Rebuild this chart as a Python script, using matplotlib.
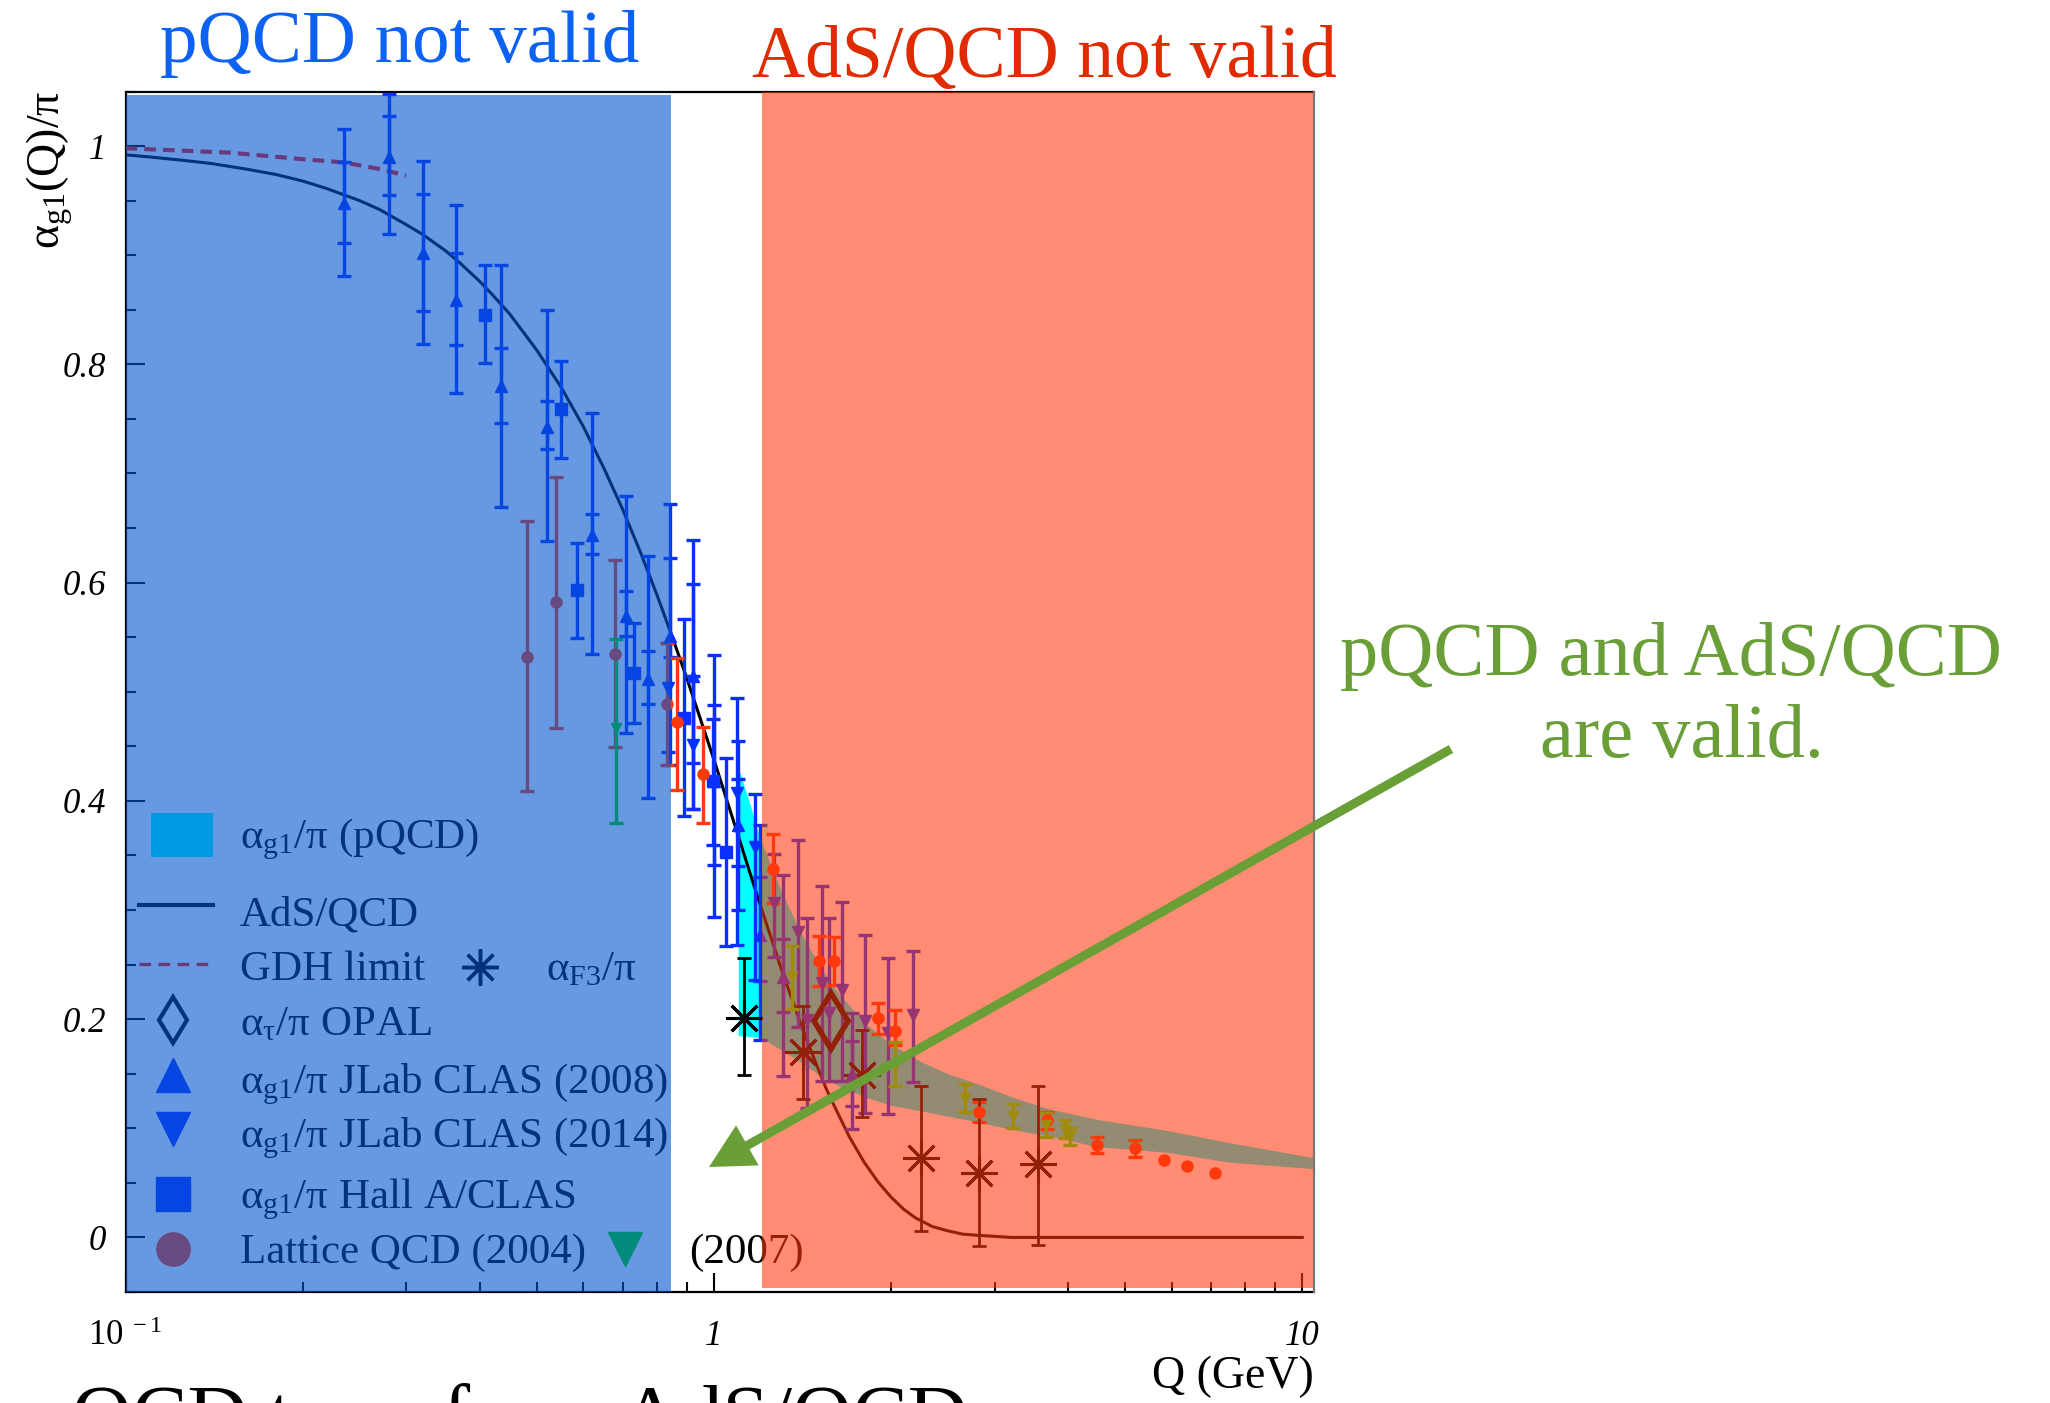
import numpy as np
import matplotlib
matplotlib.use("Agg")
import matplotlib.pyplot as plt
from matplotlib.patches import FancyArrow, Rectangle
from matplotlib.ticker import FixedLocator, NullFormatter

plt.rcParams['font.family'] = ['Liberation Serif', 'DejaVu Serif']
plt.rcParams['mathtext.fontset'] = 'custom'
plt.rcParams['mathtext.rm'] = 'Liberation Serif'
plt.rcParams['mathtext.it'] = 'Liberation Serif:italic'
plt.rcParams['mathtext.bf'] = 'Liberation Serif:bold'

# ---------------- data ----------------
# AdS/QCD prediction
ads_q = [0.1, 0.11, 0.125, 0.14, 0.16, 0.18, 0.2, 0.22, 0.25, 0.27, 0.3, 0.32, 0.35, 0.37,
         0.4, 0.42, 0.45, 0.5, 0.55, 0.6, 0.65, 0.7, 0.75, 0.8, 0.85, 0.9, 0.95, 1.0, 1.05,
         1.1, 1.15, 1.2, 1.25, 1.3, 1.35, 1.4, 1.45, 1.5, 1.55, 1.6, 1.7, 1.8, 1.9, 2.0,
         2.1, 2.2, 2.35, 2.5, 2.65, 2.8, 3.0, 3.2, 4.0, 6.0, 10.0]
ads_a = [0.992, 0.990, 0.987, 0.984, 0.979, 0.974, 0.968, 0.961, 0.950, 0.942, 0.928,
         0.919, 0.904, 0.893, 0.876, 0.864, 0.846, 0.813, 0.779, 0.743, 0.705, 0.667,
         0.628, 0.589, 0.550, 0.512, 0.474, 0.438, 0.402, 0.368, 0.335, 0.304, 0.275,
         0.247, 0.222, 0.198, 0.176, 0.156, 0.137, 0.121, 0.092, 0.069, 0.051, 0.037,
         0.026, 0.018, 0.010, 0.006, 0.003, 0.002, 0.001, 0.0, 0.0, 0.0, 0.0]

# GDH limit
gdh_q = [0.1, 0.15, 0.2, 0.235, 0.27, 0.3]
gdh_a = [0.998, 0.994, 0.988, 0.985, 0.979, 0.973]

# pQCD band
band_q = [1.10, 1.15, 1.2, 1.3, 1.4, 1.5, 1.6, 1.8, 2.0, 2.25, 2.5, 2.8, 3.2, 3.7, 4.5,
          5.9, 7.5, 10.47]
band_hi = [0.431, 0.398, 0.365, 0.318, 0.281, 0.252, 0.229, 0.197, 0.177, 0.161, 0.150,
           0.141, 0.129, 0.118, 0.108, 0.098, 0.087, 0.073]
band_lo = [0.185, 0.184, 0.183, 0.172, 0.161, 0.150, 0.141, 0.129, 0.121, 0.116, 0.111,
           0.106, 0.099, 0.093, 0.083, 0.078, 0.069, 0.063]

# JLab CLAS (2008)
clas08_q = [0.235, 0.280, 0.320, 0.365, 0.435, 0.520, 0.621, 0.708, 0.772, 0.843, 0.922,
            1.000, 1.100, 1.198, 1.313, 1.716]
clas08_a = [0.948, 0.990, 0.902, 0.859, 0.780, 0.743, 0.644, 0.569, 0.512, 0.551, 0.514,
            0.418, 0.378, 0.277, 0.239, 0.150]
clas08_hi = [1.016, 1.048, 0.986, 0.946, 0.891, 0.850, 0.755, 0.679, 0.624, 0.672, 0.639,
             0.534, 0.455, 0.378, 0.332, 0.206]
clas08_lo = [0.881, 0.919, 0.819, 0.774, 0.669, 0.638, 0.535, 0.462, 0.403, 0.433, 0.393,
             0.294, 0.300, 0.181, 0.148, 0.099]
clas08_shi = [0.985, 1.028, 0.956, 0.902, 0.815, 0.766, 0.663, 0.592, 0.537, 0.623, 0.599,
              0.488, 0.420, 0.330, 0.273, 0.180]
clas08_slo = [0.911, 0.955, 0.849, 0.818, 0.746, 0.722, 0.626, 0.551, 0.489, 0.532, 0.435,
              0.341, 0.340, 0.235, 0.207, 0.120]

# JLab CLAS (2014)
clas14_q = [0.835, 0.922, 1.094, 1.175, 1.266, 1.392, 1.438, 1.525, 1.572, 1.650, 1.803,
            1.975, 2.184]
clas14_a = [0.503, 0.451, 0.407, 0.358, 0.306, 0.280, 0.199, 0.233, 0.206, 0.227, 0.198,
            0.187, 0.204]
clas14_hi = [0.545, 0.514, 0.494, 0.406, 0.351, 0.364, 0.293, 0.322, 0.293, 0.307, 0.277,
             0.256, 0.262]
clas14_lo = [0.445, 0.393, 0.268, 0.236, 0.257, 0.193, 0.119, 0.143, 0.143, 0.143, 0.114,
             0.113, 0.142]

# Hall A/CLAS
halla_q = [0.409, 0.550, 0.585, 0.732, 0.890, 0.998, 1.049]
halla_a = [0.845, 0.759, 0.593, 0.517, 0.476, 0.418, 0.353]
halla_hi = [0.891, 0.803, 0.636, 0.563, 0.567, 0.475, 0.439]
halla_lo = [0.801, 0.714, 0.549, 0.471, 0.386, 0.360, 0.267]

# other world data (red dots)
red_q = [0.865, 0.959, 1.262, 1.511, 1.600, 1.904, 2.030, 2.817, 3.680, 4.480, 5.200]
red_a = [0.472, 0.425, 0.338, 0.253, 0.253, 0.201, 0.189, 0.115, 0.108, 0.085, 0.082]
red_hi = [0.531, 0.468, 0.370, 0.276, 0.275, 0.215, 0.208, 0.124, 0.115, 0.092, 0.089]
red_lo = [0.410, 0.380, 0.306, 0.230, 0.231, 0.186, 0.176, 0.106, 0.099, 0.077, 0.074]
red2_q = [5.83, 6.38, 7.11]
red2_a = [0.0705, 0.0657, 0.059]

# green triangles
grn_q = [1.36, 2.03, 2.673, 3.23, 3.67, 3.95, 4.03]
grn_a = [0.239, 0.158, 0.128, 0.111, 0.103, 0.099, 0.093]
grn_hi = [0.267, 0.179, 0.141, 0.1225, 0.114, 0.108, 0.1005]
grn_lo = [0.209, 0.139, 0.1145, 0.100, 0.092, 0.091, 0.085]

# Lattice QCD (2004) and (2007)
lat04_q = [0.481, 0.5385, 0.679, 0.832]
lat04_a = [0.532, 0.582, 0.535, 0.489]
lat04_hi = [0.656, 0.697, 0.621, 0.545]
lat04_lo = [0.409, 0.467, 0.449, 0.433]
lat07_q = [0.6815]
lat07_a = [0.467]
lat07_hi = [0.548]
lat07_lo = [0.380]

# alpha_F3 / pi
f3_q = [1.125, 1.419, 1.784, 2.248, 2.824, 3.553]
f3_a = [0.201, 0.170, 0.149, 0.073, 0.059, 0.067]
f3_hi = [0.256, 0.2125, 0.190, 0.139, 0.127, 0.139]
f3_lo = [0.149, 0.127, 0.110, 0.0055, -0.0076, -0.0067]

# alpha_tau / pi OPAL
opal_q = [1.58]
opal_a = [0.198]

W, H = 2050, 1403


def fx(px):
    return px / W


def fy(py):
    return 1 - py / H


fig = plt.figure(figsize=(20.5, 14.03), dpi=100)
ax = fig.add_axes([fx(125.5), fy(1292), fx(1314) - fx(125.5), fy(91.5) - fy(1292)])
ax.set_xscale('log')
ax.set_xlim(0.1, 10.47)
ax.set_ylim(-0.05, 1.05)

BLUE = '#0A2FFF'
RED = '#FF3A0A'
GREEN = '#1EFF05'


def points(q, a, hi, lo, fmt, color, ms, lw=2.4, cap=5, z=3, shi=None, slo=None):
    q = np.array(q)
    a = np.array(a)
    yerr = [a - np.array(lo), np.array(hi) - a]
    ax.errorbar(q, a, yerr=yerr, fmt=fmt, color=color, ms=ms, elinewidth=lw,
                capsize=cap, capthick=lw, zorder=z)
    if shi is not None:
        ax.errorbar(q, a, yerr=[a - np.array(slo), np.array(shi) - a], fmt='none',
                    ecolor=color, elinewidth=lw, capsize=cap, capthick=lw, zorder=z)


ax.fill_between(band_q, band_lo, band_hi, color='#00FFFF', lw=0, zorder=1.5)
ax.plot(ads_q, ads_a, color='black', lw=2.2, zorder=2)
ax.plot(gdh_q, gdh_a, color='#FF1400', lw=3, ls=(0, (2.8, 1.7)), zorder=2)

points(clas08_q, clas08_a, clas08_hi, clas08_lo, '^', BLUE, 8, shi=clas08_shi, slo=clas08_slo)
points(clas14_q, clas14_a, clas14_hi, clas14_lo, 'v', BLUE, 8)
points(halla_q, halla_a, halla_hi, halla_lo, 's', BLUE, 8)
points(red_q, red_a, red_hi, red_lo, 'o', RED, 8)
ax.plot(red2_q, red2_a, 'o', color=RED, ms=8, zorder=3)
points(grn_q, grn_a, grn_hi, grn_lo, 'v', GREEN, 7)
points(lat04_q, lat04_a, lat04_hi, lat04_lo, 'o', RED, 8)
points(lat07_q, lat07_a, lat07_hi, lat07_lo, 'v', '#00DC00', 7)
points(f3_q, f3_a, f3_hi, f3_lo, 'none', 'black', 0, lw=2.0, cap=5)
ax.plot(f3_q, f3_a, ls='none', marker=(8, 2, 0), ms=26, mew=2.2, color='black', zorder=3)
ax.plot(opal_q, opal_a, ls='none', marker='d', ms=29, mfc='none', mec='black', mew=4, zorder=3)

# legend (drawn inside the axes so the shading covers it)
tf = fig.transFigure
legend_kw = dict(transform=tf, fontsize=31, color='black', va='baseline', zorder=4)
ax.add_patch(Rectangle((fx(151), fy(857)), fx(213) - fx(151), fy(813) - fy(857),
                       transform=tf, color='#00FFFF', lw=0, zorder=4, clip_on=False))
ax.text(fx(240), fy(848), r'α$_{\rm g1}$/π (pQCD)', **legend_kw)
ax.plot([fx(139), fx(213)], [fy(905), fy(905)], transform=tf, color='black', lw=3,
        zorder=4, clip_on=False)
ax.text(fx(240), fy(925), 'AdS/QCD', **legend_kw)
ax.plot([fx(139), fx(213)], [fy(964), fy(964)], transform=tf, color='#FF1400', lw=2.4,
        ls=(0, (3.5, 2.2)), zorder=4, clip_on=False)
ax.text(fx(240), fy(980), 'GDH limit', **legend_kw)
ax.plot([fx(480)], [fy(967)], transform=tf, marker=(8, 2, 0), ms=26, mew=2.5,
        color='black', zorder=4, clip_on=False)
ax.text(fx(546), fy(980), r'α$_{\rm F3}$/π', **legend_kw)
ax.plot([fx(173)], [fy(1020)], transform=tf, marker='d', ms=23, mfc='none', mec='black',
        mew=3, zorder=4, clip_on=False)
ax.text(fx(240), fy(1035), r'α$_{\rm τ}$/π OPAL', **legend_kw)
ax.plot([fx(173)], [fy(1075)], transform=tf, marker='^', ms=24, color=BLUE, zorder=4,
        clip_on=False)
ax.text(fx(240), fy(1093), r'α$_{\rm g1}$/π JLab CLAS (2008)', **legend_kw)
ax.plot([fx(173)], [fy(1129)], transform=tf, marker='v', ms=24, color=BLUE, zorder=4,
        clip_on=False)
ax.text(fx(240), fy(1147), r'α$_{\rm g1}$/π JLab CLAS (2014)', **legend_kw)
ax.plot([fx(173)], [fy(1194)], transform=tf, marker='s', ms=24, color=BLUE, zorder=4,
        clip_on=False)
ax.text(fx(240), fy(1208), r'α$_{\rm g1}$/π Hall A/CLAS', **legend_kw)
ax.plot([fx(173)], [fy(1249)], transform=tf, marker='o', ms=24, color=RED, zorder=4,
        clip_on=False)
ax.text(fx(240), fy(1263), 'Lattice QCD (2004)', **legend_kw)
ax.plot([fx(625)], [fy(1249)], transform=tf, marker='v', ms=24, color='#00DC00', zorder=4,
        clip_on=False)
ax.text(fx(689), fy(1263), '(2007)', **legend_kw)

# validity shading laid over everything in the frame
ax.axvspan(0.1, 0.845, ymin=0, ymax=0.997, color='#0255CF', alpha=0.6, lw=0, zorder=5)
ax.axvspan(1.208, 10.42, ymin=0.003, ymax=1, color='#FF390E', alpha=0.58, lw=0, zorder=5)

# axes cosmetics
ax.set_axisbelow(True)
for side in ['left', 'bottom', 'top']:
    ax.spines[side].set_zorder(1)
    ax.spines[side].set_linewidth(1.6)
ax.spines['right'].set_color('#777777')
ax.spines['right'].set_linewidth(1.6)

ax.set_xticks([0.1, 1, 10])
ax.set_xticklabels([r'$\mathit{10^{\ -1}}$', '1', '10'])
ax.xaxis.set_minor_locator(FixedLocator([0.2, 0.3, 0.4, 0.5, 0.6, 0.7, 0.8, 0.9,
                                         2, 3, 4, 5, 6, 7, 8, 9]))
ax.xaxis.set_minor_formatter(NullFormatter())
ax.set_yticks([0, 0.2, 0.4, 0.6, 0.8, 1.0])
ax.set_yticklabels(['0', '0.2', '0.4', '0.6', '0.8', '1'])
ax.yaxis.set_minor_locator(FixedLocator([-0.05, 0.05, 0.1, 0.15, 0.25, 0.3, 0.35, 0.45, 0.5,
                                         0.55, 0.65, 0.7, 0.75, 0.85, 0.9, 0.95, 1.05]))
ax.tick_params(axis='both', which='both', direction='in', top=False, right=False,
               labelsize=25, width=1.5, color='black')
ax.tick_params(axis='both', which='major', length=14)
ax.tick_params(axis='both', which='minor', length=7)
ax.tick_params(axis='y', pad=14)
ax.tick_params(axis='x', pad=20)
for lab in ax.get_xticklabels() + ax.get_yticklabels():
    lab.set_fontstyle('italic')

fig.text(fx(50), fy(91), r'α$_{\rm g1}$(Q)/π', rotation=90, ha='center', va='top',
         fontsize=33)
fig.text(fx(1314), fy(1388), 'Q (GeV)', ha='right', va='baseline', fontsize=33)

# annotations
fig.text(fx(400), fy(62), 'pQCD not valid', ha='center', va='baseline', fontsize=54,
         color='#0D62F2')
fig.text(fx(1044), fy(77), 'AdS/QCD not valid', ha='center', va='baseline', fontsize=53,
         color='#E02A00')
fig.text(fx(1671), fy(675), 'pQCD and AdS/QCD', ha='center', va='baseline', fontsize=55,
         color='#6A9E36')
fig.text(fx(1682), fy(757), 'are valid.', ha='center', va='baseline', fontsize=55,
         color='#6A9E36')
arrow = FancyArrow(14.51, (H - 749) / 100, -7.42, -4.18, width=0.09, head_width=0.46,
                   head_length=0.44, length_includes_head=True,
                   transform=fig.dpi_scale_trans, color='#6A9E36', lw=0, zorder=10)
fig.add_artist(arrow)

# slide title line cut off by the bottom edge
fig.text(fx(30), fy(1442), 'pQCD term from AdS/QCD', ha='left', va='baseline',
         fontsize=60, color='black')

fig.savefig('out.png', dpi=100)
